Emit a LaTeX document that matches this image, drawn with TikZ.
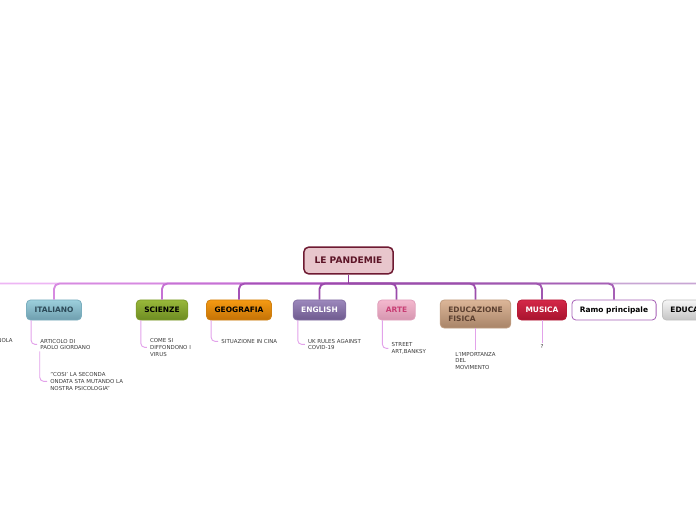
\documentclass[tikz,border=0pt]{standalone}
\usepackage{fontspec}
\setmainfont{DejaVu Sans}
\usepackage{xcolor}
\usetikzlibrary{positioning}

% colours of the map
\definecolor{rootFill}{HTML}{E8C6CC}
\definecolor{rootLine}{HTML}{6E1A32}
\definecolor{rootText}{HTML}{5C1426}
\definecolor{leafText}{HTML}{3A3A3A}
\definecolor{twigLine}{HTML}{E2A2EA}
\definecolor{brRoot}{HTML}{8E3C9E}
\definecolor{brStoria}{HTML}{EDB6F4}
\definecolor{brItaliano}{HTML}{D68AE0}
\definecolor{brScienze}{HTML}{C572D4}
\definecolor{brGeografia}{HTML}{A452B6}
\definecolor{brEnglish}{HTML}{9A4AAA}
\definecolor{brArte}{HTML}{9A4AAA}
\definecolor{brEduf}{HTML}{9C4EAC}
\definecolor{brMusica}{HTML}{A056B0}
\definecolor{brRamo}{HTML}{A660B6}
\definecolor{brEduca}{HTML}{C8A6D4}
% topic colours: top, bottom, border, text
\definecolor{itaTop}{HTML}{9CCFDC}\definecolor{itaBot}{HTML}{6E9EAE}\definecolor{itaLine}{HTML}{7AAEBE}\definecolor{itaText}{HTML}{2C4A58}
\definecolor{sciTop}{HTML}{98B83A}\definecolor{sciBot}{HTML}{6E8C22}\definecolor{sciLine}{HTML}{7E9A2A}
\definecolor{geoTop}{HTML}{F59A12}\definecolor{geoBot}{HTML}{C47206}\definecolor{geoLine}{HTML}{D08010}
\definecolor{engTop}{HTML}{9C88BC}\definecolor{engBot}{HTML}{6E5A8E}\definecolor{engLine}{HTML}{8470A4}
\definecolor{artTop}{HTML}{F4B8CE}\definecolor{artBot}{HTML}{D696B0}\definecolor{artLine}{HTML}{E0A0BC}\definecolor{artText}{HTML}{C83E74}
\definecolor{edfTop}{HTML}{DCB698}\definecolor{edfBot}{HTML}{A88468}\definecolor{edfLine}{HTML}{C09C80}\definecolor{edfText}{HTML}{5C4030}
\definecolor{musTop}{HTML}{D42848}\definecolor{musBot}{HTML}{A8142E}\definecolor{musLine}{HTML}{B81C38}
\definecolor{edcTop}{HTML}{F6F6F6}\definecolor{edcBot}{HTML}{C4C4C4}\definecolor{edcLine}{HTML}{C0C0C0}

\tikzset{
  skin/.style n args={4}{top color=#1, bottom color=#2, draw=#3, text=#4},
}

\begin{document}
\begin{tikzpicture}[x=0.75pt, y=-0.75pt,
  rootnode/.style={draw=rootLine, fill=rootFill, text=rootText, line width=1.1pt, rounded corners=3.5pt, minimum height=20pt, inner xsep=8pt, font=\fontsize{6.8}{8}\selectfont\bfseries},
  topic/.style={rounded corners=3pt, minimum height=15pt, inner xsep=6pt, inner ysep=2pt, line width=0.6pt, font=\fontsize{5.6}{7}\selectfont\bfseries},
  leaf/.style={inner xsep=2.25pt, inner ysep=1pt, align=left, text=leafText, font=\fontsize{4.1}{5}\selectfont},
  branch/.style={draw=#1, line width=1.4pt, rounded corners=4pt},
  twig/.style={draw=twigLine, line width=0.7pt, rounded corners=3pt},
]
\useasboundingbox (0,0) rectangle (696,520);

\node[rootnode] (pandemie) at (348.5,260.5) {LE PANDEMIE};
\coordinate (hub) at ([yshift=-6.75pt]pandemie.south);

\node[topic, skin={itaTop}{itaBot}{itaLine}{itaText}] (italiano) at (54,310) {ITALIANO};
\node[topic, skin={sciTop}{sciBot}{sciLine}{black}] (scienze) at (162,310) {SCIENZE};
\node[topic, skin={geoTop}{geoBot}{geoLine}{black}] (geografia) at (239,310) {GEOGRAFIA};
\node[topic, skin={engTop}{engBot}{engLine}{white}] (english) at (319.5,310) {ENGLISH};
\node[topic, skin={artTop}{artBot}{artLine}{artText}] (arte) at (396.5,310) {ARTE};
\node[topic, align=left, minimum height=21pt, skin={edfTop}{edfBot}{edfLine}{edfText}] (eduf) at (475.5,314) {EDUCAZIONE\\FISICA};
\node[topic, skin={musTop}{musBot}{musLine}{white}] (musica) at (542,310) {MUSICA};
\node[topic, draw=brRamo, fill=white, text=black] (ramo) at (614,310) {Ramo principale};
\node[topic, anchor=west, text width=50pt, align=left, skin={edcTop}{edcBot}{edcLine}{black}] (educa) at (662,310) {EDUCA};
\coordinate (storia) at (-40,300);

% sub-topics
\node[leaf, anchor=west] (articolo) at ([shift={(11,24)}]italiano.south west) {ARTICOLO DI\\PAOLO GIORDANO};
\node[leaf, anchor=west] (cosi) at ([shift={(10,37)}]articolo.west) {"COSI' LA SECONDA\\ONDATA STA MUTANDO LA\\NOSTRA PSICOLOGIA"};
\node[leaf, anchor=west] (virus) at ([shift={(11,27)}]scienze.south west) {COME SI\\DIFFONDONO I\\VIRUS};
\node[leaf, anchor=west] (cina) at ([shift={(12,21)}]geografia.south west) {SITUAZIONE IN CINA};
\node[leaf, anchor=west] (ukrules) at ([shift={(12,24)}]english.south west) {UK RULES AGAINST\\COVID-19};
\node[leaf, anchor=west] (banksy) at ([shift={(11,28)}]arte.south west) {STREET\\ART,BANKSY};
\node[leaf, below=16.5pt of eduf] (movimento) {L'IMPORTANZA\\DEL\\MOVIMENTO};
\node[leaf, below=17pt of musica] (punto) {?};
\node[leaf, anchor=east] (spagnola) at (16,341) {NOLA};

% main branches, outer ones first
\draw[branch=brStoria] (hub) -| (storia);
\draw[branch=brItaliano] (hub) -| (italiano.north);
\draw[branch=brScienze] (hub) -| (scienze.north);
\draw[branch=brGeografia] (hub) -| (geografia.north);
\draw[branch=brEnglish] (hub) -| (english.north);
\draw[branch=brEduca] (hub) -| (educa.north);
\draw[branch=brRamo] (hub) -| (ramo.north);
\draw[branch=brMusica] (hub) -| (musica.north);
\draw[branch=brEduf] (hub) -| (eduf.north);
\draw[branch=brArte] (hub) -| (arte.north);
\draw[branch=brRoot] (pandemie.south) -- (hub);

% sub-branches
\draw[twig] ([xshift=3.75pt]italiano.south west) |- (articolo.west);
\draw[twig] ([xshift=2pt]articolo.south west) |- (cosi.west);
\draw[twig] ([xshift=3.75pt]scienze.south west) |- (virus.west);
\draw[twig] ([xshift=3.75pt]geografia.south west) |- (cina.west);
\draw[twig] ([xshift=3.75pt]english.south west) |- (ukrules.west);
\draw[twig] ([xshift=3.75pt]arte.south west) |- (banksy.west);
\draw[twig] (eduf) -- (movimento);
\draw[twig] (musica) -- (punto);
\end{tikzpicture}
\end{document}
